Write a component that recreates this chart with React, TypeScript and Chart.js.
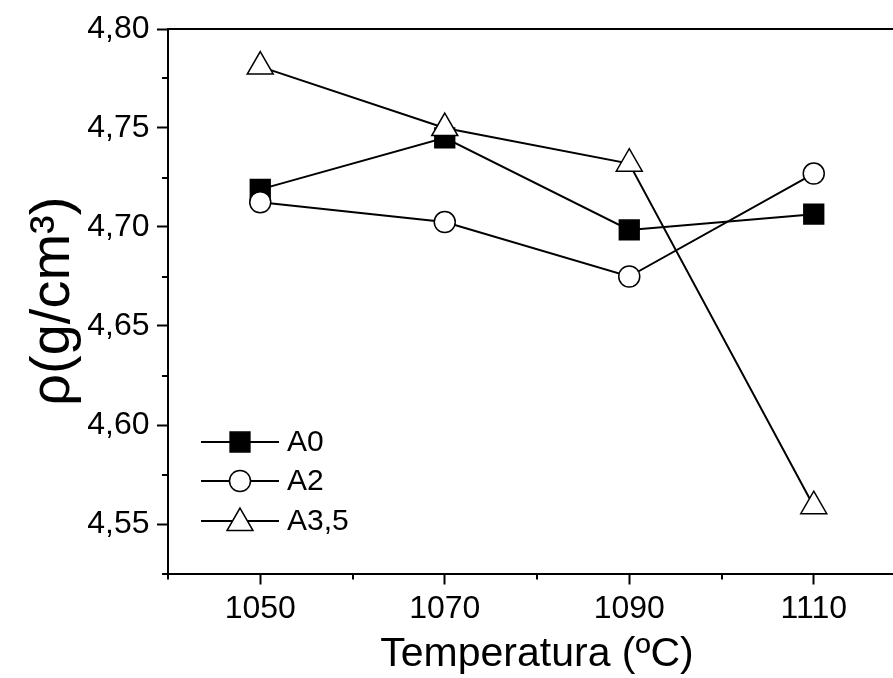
import React, { useEffect, useRef } from 'react';
import { Chart, registerables } from 'chart.js';

Chart.register(...registerables);

// ---- data ----
const temperatures = [1050, 1070, 1090, 1110];
const seriesNames = ['A0', 'A2', 'A3,5'];
const densityA0 = [4.719, 4.745, 4.6985, 4.7065];
const densityA2 = [4.7125, 4.7025, 4.675, 4.727];
const densityA35 = [4.781, 4.75, 4.732, 4.559];

const xTickValues = [1040, 1050, 1060, 1070, 1080, 1090, 1100, 1110, 1120];
const xLabeledTicks = [1050, 1070, 1090, 1110];
const yTickValues = [4.525, 4.55, 4.575, 4.6, 4.625, 4.65, 4.675, 4.7, 4.725, 4.75, 4.775, 4.8];
const yLabeledTicks = [4.55, 4.6, 4.65, 4.7, 4.75, 4.8];

const xTitle = 'Temperatura (ºC)';
const yTitle = 'ρ(g/cm³)';

const FONT = "'Liberation Sans', Arial, sans-serif";

const isLabeled = (v: number, list: number[]) => list.some((t) => Math.abs(t - v) < 1e-6);

const markerStyles = [
  { pointStyle: 'rect', radius: 14, fill: '#000000' },
  { pointStyle: 'circle', radius: 10.5, fill: '#ffffff' },
  { pointStyle: 'triangle', radius: 15, fill: '#ffffff' },
];

function drawMarker(ctx: CanvasRenderingContext2D, style: string, r: number, x: number, y: number, fill: string) {
  ctx.beginPath();
  if (style === 'rect') {
    const s = Math.SQRT1_2 * r;
    ctx.rect(x - s, y - s, 2 * s, 2 * s);
  } else if (style === 'circle') {
    ctx.arc(x, y, r, 0, Math.PI * 2);
  } else {
    let rad = 0;
    ctx.moveTo(x + Math.sin(rad) * r, y - Math.cos(rad) * r);
    rad += (2 * Math.PI) / 3;
    ctx.lineTo(x + Math.sin(rad) * r, y - Math.cos(rad) * r);
    rad += (2 * Math.PI) / 3;
    ctx.lineTo(x + Math.sin(rad) * r, y - Math.cos(rad) * r);
    ctx.closePath();
  }
  ctx.fillStyle = fill;
  ctx.fill();
  ctx.lineWidth = 1.5;
  ctx.strokeStyle = '#000';
  ctx.stroke();
}

const framePlugin = {
  id: 'frameAndMinorTicks',
  afterDraw(chart: any) {
    const ctx: CanvasRenderingContext2D = chart.ctx;
    const { left, right, top, bottom } = chart.chartArea;
    ctx.save();
    ctx.strokeStyle = '#000';
    ctx.lineWidth = 2;
    ctx.beginPath();
    ctx.moveTo(left - 1, top);
    ctx.lineTo(right, top);
    ctx.stroke();
    const xs = chart.scales.x;
    xTickValues
      .filter((v) => !isLabeled(v, xLabeledTicks))
      .forEach((v) => {
        const px = Math.round(xs.getPixelForValue(v));
        ctx.beginPath();
        ctx.moveTo(px, bottom);
        ctx.lineTo(px, bottom + 6);
        ctx.stroke();
      });
    const ys = chart.scales.y;
    yTickValues
      .filter((v) => !isLabeled(v, yLabeledTicks))
      .forEach((v) => {
        const py = Math.round(ys.getPixelForValue(v));
        ctx.beginPath();
        ctx.moveTo(left, py);
        ctx.lineTo(left - 6, py);
        ctx.stroke();
      });
    ctx.restore();
  },
};

const legendPlugin = {
  id: 'lineMarkerLegend',
  afterDatasetsDraw(chart: any) {
    const ctx: CanvasRenderingContext2D = chart.ctx;
    const { left } = chart.chartArea;
    const x0 = left + 33;
    const x1 = left + 111;
    const xm = left + 72;
    const xt = left + 119;
    const rowsY = [442, 481, 521];
    ctx.save();
    seriesNames.forEach((name, i) => {
      const y = rowsY[i];
      ctx.strokeStyle = '#000';
      ctx.lineWidth = 2;
      ctx.beginPath();
      ctx.moveTo(x0, y);
      ctx.lineTo(x1, y);
      ctx.stroke();
      const m = markerStyles[i];
      drawMarker(ctx, m.pointStyle, m.radius, xm, i === 2 ? y + 2 : y, m.fill);
      ctx.fillStyle = '#000';
      ctx.font = `30px ${FONT}`;
      ctx.textBaseline = 'middle';
      ctx.textAlign = 'left';
      ctx.fillText(name, xt, y + 1);
    });
    ctx.restore();
  },
};

export default function App() {
  const canvasRef = useRef<HTMLCanvasElement | null>(null);

  useEffect(() => {
    const canvas = canvasRef.current;
    if (!canvas) return;
    const seriesValues = [densityA0, densityA2, densityA35];
    const datasets = seriesNames.map((name, i) => ({
      label: name,
      data: temperatures.map((t, j) => ({ x: t, y: seriesValues[i][j] })),
      borderColor: '#000',
      borderWidth: 2,
      pointStyle: markerStyles[i].pointStyle,
      pointRadius: markerStyles[i].radius,
      pointBackgroundColor: markerStyles[i].fill,
      pointBorderColor: '#000',
      pointBorderWidth: 1.5,
      fill: false,
      tension: 0,
      clip: false,
      order: 2 - i,
    }));

    const chart = new Chart(canvas, {
      type: 'line',
      data: { datasets },
      options: {
        animation: false,
        responsive: false,
        devicePixelRatio: 1,
        layout: { autoPadding: false, padding: { top: 29, left: 0, right: 0, bottom: 0 } },
        plugins: { legend: { display: false }, tooltip: { enabled: false } },
        scales: {
          x: {
            type: 'linear',
            min: 1040,
            max: 1120,
            afterBuildTicks: (scale: any) => {
              scale.ticks = xTickValues.map((v) => ({ value: v }));
            },
            afterFit: (scale: any) => {
              scale.height = 104.5;
              scale.paddingLeft = 0;
              scale.paddingRight = 0;
            },
            ticks: {
              autoSkip: false,
              maxRotation: 0,
              padding: 5,
              color: '#000',
              font: { family: FONT, size: 32 },
              callback: (v: any) => (isLabeled(Number(v), xLabeledTicks) ? String(v) : ''),
            },
            grid: {
              display: true,
              drawOnChartArea: false,
              drawTicks: true,
              tickLength: 11,
              tickWidth: 2,
              tickColor: (c: any) =>
                c.tick && isLabeled(c.tick.value, xLabeledTicks) ? '#000' : 'rgba(0,0,0,0)',
            },
            border: { display: true, color: '#000', width: 2 },
            title: {
              display: true,
              text: xTitle,
              color: '#000',
              font: { family: FONT, size: 41 },
              padding: { top: 0, bottom: -1 },
            },
          },
          y: {
            type: 'linear',
            min: 4.525,
            max: 4.8,
            afterBuildTicks: (scale: any) => {
              scale.ticks = yTickValues.map((v) => ({ value: v }));
            },
            afterFit: (scale: any) => {
              scale.width = 168;
              scale.paddingTop = 0;
              scale.paddingBottom = 0;
            },
            ticks: {
              autoSkip: false,
              padding: 7.5,
              color: '#000',
              font: { family: FONT, size: 32 },
              callback: (v: any) =>
                isLabeled(Number(v), yLabeledTicks) ? Number(v).toFixed(2).replace('.', ',') : '',
            },
            grid: {
              display: true,
              drawOnChartArea: false,
              drawTicks: true,
              tickLength: 11,
              tickWidth: 2,
              tickColor: (c: any) =>
                c.tick && isLabeled(c.tick.value, yLabeledTicks) ? '#000' : 'rgba(0,0,0,0)',
            },
            border: { display: true, color: '#000', width: 2 },
            title: {
              display: true,
              text: yTitle,
              color: '#000',
              font: { family: FONT, size: 56 },
              padding: { top: 20, bottom: 0 },
            },
          },
        },
      } as any,
      plugins: [framePlugin, legendPlugin],
    });

    return () => chart.destroy();
  }, []);

  return (
    <div
      style={{
        position: 'fixed',
        left: 0,
        top: 0,
        width: 893,
        height: 678,
        overflow: 'hidden',
        background: '#ffffff',
      }}
    >
      <canvas ref={canvasRef} width={906} height={678} style={{ width: 906, height: 678, display: 'block' }} />
    </div>
  );
}
